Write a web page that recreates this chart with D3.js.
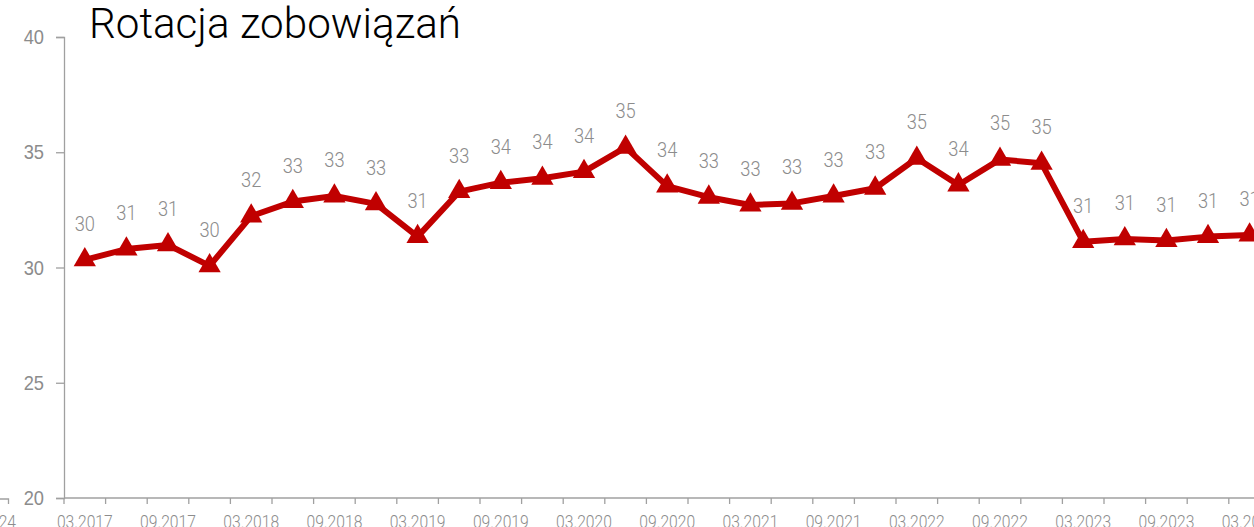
<html>
<head>
<meta charset="utf-8">
<title>Rotacja zobowiązań</title>
<script src="https://d3js.org/d3.v7.min.js"></script>
<style>
	body { margin: 0; background: #fff; overflow: hidden; }
	svg { display: block; font-family: Roboto, "Liberation Sans", sans-serif; }
</style>
</head>
<body>
<svg id="container" width="1254" height="527"></svg>
<script>
// quarters on the x axis
var quarters = ["03.2017","06.2017","09.2017","12.2017",
                "03.2018","06.2018","09.2018","12.2018",
                "03.2019","06.2019","09.2019","12.2019",
                "03.2020","06.2020","09.2020","12.2020",
                "03.2021","06.2021","09.2021","12.2021",
                "03.2022","06.2022","09.2022","12.2022",
                "03.2023","06.2023","09.2023","12.2023",
                "03.2024"];
// days
var rotation = [30.33, 30.80, 30.98, 30.07,
                32.23, 32.86, 33.10, 32.76,
                31.34, 33.29, 33.68, 33.87,
                34.16, 35.21, 33.53, 33.05,
                32.71, 32.78, 33.10, 33.44,
                34.74, 33.58, 34.69, 34.52,
                31.12, 31.24, 31.17, 31.34,
                31.41];
var yTicks = [20, 25, 30, 35, 40];
var shownMonths = ["03", "09"];
var title = "Rotacja zobowiązań";

var red = "#C00000",
    grey = "#8c8c8c",
    axisGrey = "#a0a0a0",
    squeeze = 0.87;   // fake a condensed face

var svg = d3.select("svg"),
    plotLeft = 64,
    plotTop = 37,
    plotBottom = 498,
    step = 41.6;

var x = d3.scaleBand()
	.domain(quarters)
	.range([plotLeft, plotLeft + quarters.length * step])
	.padding(0);
var y = d3.scaleLinear()
	.domain([20, 40])
	.range([plotBottom, plotTop]);

// y axis
var yAxis = svg.append("g")
	.attr("transform", "translate(" + plotLeft + ",0)")
	.call(d3.axisLeft(y).tickValues(yTicks).tickSize(8).tickPadding(15));
yAxis.selectAll("path, line").attr("stroke", axisGrey).attr("stroke-width", 1.3);
yAxis.selectAll("text")
	.attr("fill", grey)
	.style("font-size", "21px")
	.style("font-weight", 300)
	.attr("transform", "scale(" + squeeze + ",1)");

// x axis: ticks between categories, labels in the middle
var xAxis = svg.append("g");
xAxis.append("line")
	.attr("x1", plotLeft).attr("x2", x.range()[1])
	.attr("y1", plotBottom).attr("y2", plotBottom)
	.attr("stroke", axisGrey).attr("stroke-width", 1.3);
xAxis.selectAll(".tick")
	.data(quarters.concat(["end"]))
	.enter().append("line")
	.attr("x1", function(d, i) { return plotLeft + i * x.step(); })
	.attr("x2", function(d, i) { return plotLeft + i * x.step(); })
	.attr("y1", plotBottom).attr("y2", plotBottom + 6)
	.attr("stroke", axisGrey).attr("stroke-width", 1.3);
xAxis.selectAll(".xlab")
	.data(quarters.filter(function(q) { return shownMonths.indexOf(q.slice(0, 2)) >= 0; }))
	.enter().append("text")
	.attr("transform", function(d) {
		return "translate(" + (x(d) + x.bandwidth() / 2) + "," + (plotBottom + 30) + ") scale(" + squeeze + ",1)";
	})
	.attr("text-anchor", "middle")
	.attr("fill", grey)
	.style("font-size", "18px")
	.style("font-weight", 300)
	.text(function(d) { return d; });

// bit of the neighbouring panel peeking in at the left edge
svg.append("path")
	.attr("d", "M0," + (plotBottom + 1) + "H8.5V" + (plotBottom + 6))
	.attr("fill", "none").attr("stroke", axisGrey).attr("stroke-width", 1.3);
svg.append("text")
	.attr("transform", "translate(16," + (plotBottom + 30) + ") scale(" + squeeze + ",1)")
	.attr("text-anchor", "end")
	.attr("fill", grey)
	.style("font-size", "18px")
	.style("font-weight", 300)
	.text(quarters[quarters.length - 1]);

// the series
var pts = quarters.map(function(q, i) { return { q: q, v: rotation[i] }; });
var cx = function(d) { return x(d.q) + x.bandwidth() / 2; };

svg.append("path")
	.datum(pts)
	.attr("fill", "none")
	.attr("stroke", red)
	.attr("stroke-width", 6)
	.attr("stroke-linejoin", "round")
	.attr("d", d3.line().x(cx).y(function(d) { return y(d.v); }));

svg.selectAll(".marker")
	.data(pts)
	.enter().append("path")
	.attr("transform", function(d) { return "translate(" + cx(d) + "," + y(d.v) + ")"; })
	.attr("fill", red)
	.attr("d", d3.symbol().type(d3.symbolTriangle).size(215));

svg.selectAll(".val")
	.data(pts)
	.enter().append("text")
	.attr("transform", function(d) {
		return "translate(" + cx(d) + "," + (y(d.v) - 29) + ") scale(" + squeeze + ",1)";
	})
	.attr("text-anchor", "middle")
	.attr("fill", grey)
	.style("font-size", "21px")
	.style("font-weight", 300)
	.text(function(d) { return d3.format(".0f")(d.v); });

// title
svg.append("text")
	.attr("x", 89)
	.attr("y", 38)
	.attr("textLength", 372)
	.attr("lengthAdjust", "spacingAndGlyphs")
	.attr("fill", "#000")
	.style("font-size", "42px")
	.style("font-weight", 300)
	.text(title);
</script>
</body>
</html>
